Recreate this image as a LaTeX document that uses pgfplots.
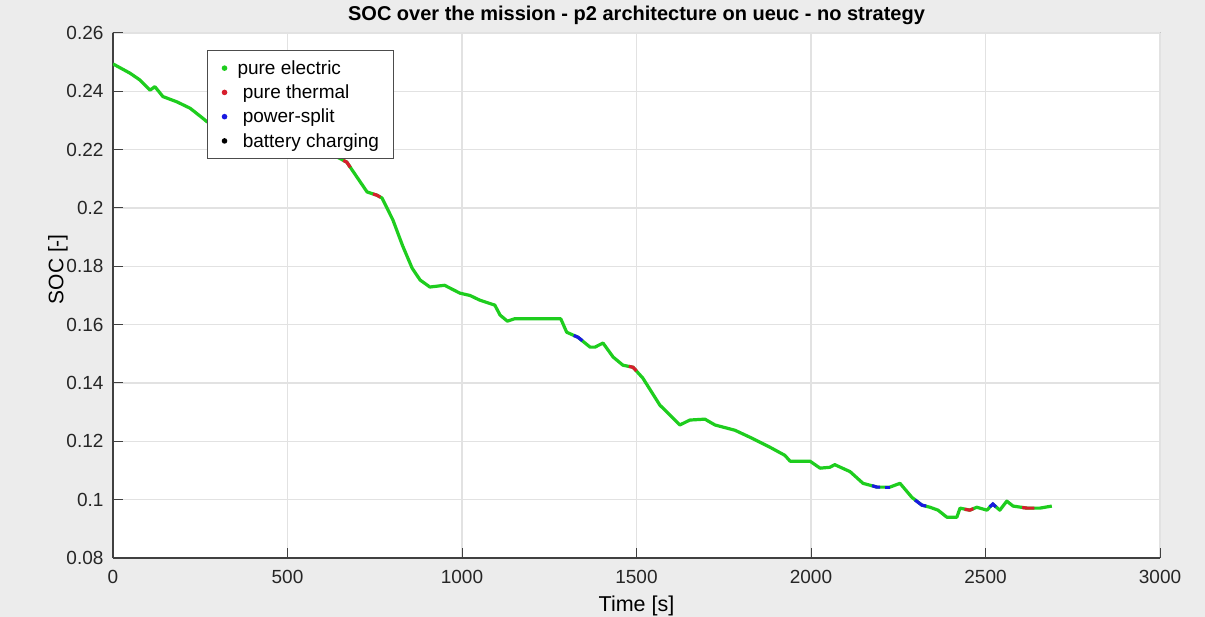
\documentclass[border=0pt]{standalone}
\usepackage{fontspec}
\setmainfont{Liberation Sans}
\usepackage{pgfplots}
\pgfplotsset{compat=1.18}
\definecolor{socgreen}{RGB}{30,205,30}
\definecolor{socred}{RGB}{215,30,45}
\definecolor{socblue}{RGB}{25,25,225}
\definecolor{figbg}{RGB}{236,236,236}
\definecolor{gridgray}{RGB}{226,226,226}

\begin{document}
\begin{tikzpicture}[x=1pt,y=1pt]
\useasboundingbox (0,0) rectangle (1205,617);
\fill[figbg] (0,0) rectangle (1205,617);
\begin{axis}[
  at={(113pt,59pt)}, anchor=south west,
  scale only axis, width=1047pt, height=525pt,
  xmin=0, xmax=3000, ymin=0.08, ymax=0.26,
  xtick={0,500,1000,1500,2000,2500,3000},
  ytick={0.08,0.1,0.12,0.14,0.16,0.18,0.2,0.22,0.24,0.26},
  scaled y ticks=false, scaled x ticks=false,
  xticklabel style={/pgf/number format/set thousands separator={}, yshift=-9pt},
  yticklabel style={/pgf/number format/fixed, /pgf/number format/precision=2, xshift=-6pt},
  /pgf/number format/assume math mode=true,
  tick label style={font=\fontsize{19}{22}\selectfont, text=black!85},
  axis lines=left, axis line style={-, black!75, line width=1.2pt},
  axis background/.style={fill=white, draw=gray!45, line width=1pt},
  tick align=inside, major tick length=10pt,
  tick style={black!75, line width=1pt},
  grid=major, major grid style={gridgray, line width=1.5pt},
  title={SOC over the mission - p2 architecture on ueuc - no strategy},
  title style={font=\bfseries\fontsize{20}{23}\selectfont, at={(axis description cs:0.5,1)}, anchor=base, yshift=6pt, inner sep=0pt},
  xlabel={Time [s]},
  xlabel style={font=\fontsize{21.5}{24}\selectfont, at={(axis description cs:0.5,0)}, anchor=base, yshift=-54pt, inner sep=0pt},
  ylabel={SOC [-]},
  ylabel style={font=\fontsize{21}{24}\selectfont, at={(axis description cs:0,0.55)}, anchor=center, yshift=55pt, inner sep=0pt},
  legend style={at={(0.0898,0.9676)}, anchor=north west, font=\fontsize{19}{22}\selectfont,
    draw=black!70, line width=1pt, fill=white, row sep=5pt, inner ysep=8pt, inner xsep=12pt,
    legend cell align=left},
]
\addlegendimage{legend image code/.code={\path[draw=none,fill=none] (0pt,0pt) -- (16pt,0pt); \fill[socgreen,draw=none] (5pt,0pt) circle (2.8pt);}}
\addlegendentry{pure electric}
\addlegendimage{legend image code/.code={\path[draw=none,fill=none] (0pt,0pt) -- (16pt,0pt); \fill[socred,draw=none] (5pt,0pt) circle (2.8pt);}}
\addlegendentry{\ pure thermal}
\addlegendimage{legend image code/.code={\path[draw=none,fill=none] (0pt,0pt) -- (16pt,0pt); \fill[socblue,draw=none] (5pt,0pt) circle (2.8pt);}}
\addlegendentry{\ power-split}
\addlegendimage{legend image code/.code={\path[draw=none,fill=none] (0pt,0pt) -- (16pt,0pt); \fill[black,draw=none] (5pt,0pt) circle (2.8pt);}}
\addlegendentry{\ battery charging}

% pure electric (main trace)
\addplot[forget plot, socgreen, line width=3.2pt, line join=round] coordinates {
(0,0.2494) (49,0.2462) (77,0.2439) (106,0.2404) (120,0.2416) (143,0.2382)
(183,0.2364) (221,0.2342) (258,0.2307) (269,0.2296) (330,0.2275) (400,0.2250)
(470,0.2235) (540,0.2215) (600,0.2195) (642,0.2175) (670,0.2157) (699,0.2106)
(728,0.2055) (756,0.2044) (771,0.2034) (802,0.1959) (830,0.1870) (857,0.1794)
(880,0.1753) (908,0.1729) (950,0.1735) (994,0.1708) (1023,0.1700) (1051,0.1684)
(1094,0.1667) (1109,0.1633) (1130,0.1612) (1150,0.1620) (1283,0.1620) (1300,0.1574)
(1332,0.1557) (1367,0.1523) (1381,0.1523) (1404,0.1537) (1433,0.1489) (1461,0.1461)
(1490,0.1454) (1518,0.1417) (1567,0.1324) (1596,0.1290) (1624,0.1256) (1653,0.1273)
(1696,0.1276) (1725,0.1256) (1782,0.1238) (1825,0.1214) (1882,0.1180) (1925,0.1152)
(1940,0.1132) (1997,0.1132) (2026,0.1108) (2054,0.1111) (2068,0.1120) (2112,0.1096)
(2149,0.1056) (2189,0.1043) (2226,0.1043) (2255,0.1056) (2289,0.1008) (2318,0.0981)
(2341,0.0974) (2364,0.0964) (2389,0.0940) (2418,0.0940) (2427,0.0971) (2455,0.0964)
(2475,0.0974) (2504,0.0964) (2521,0.0985) (2541,0.0964) (2561,0.0995) (2579,0.0978)
(2619,0.0971) (2656,0.0971) (2690,0.0978)
};
% pure thermal
\addplot[forget plot, socred, line width=3.2pt] coordinates {(660,0.2163) (670,0.2157) (680,0.2139)};
\addplot[forget plot, socred, line width=3.2pt] coordinates {(745,0.2048) (756,0.2044) (766,0.2037)};
\addplot[forget plot, socred, line width=3.2pt] coordinates {(1478,0.1457) (1490,0.1454) (1500,0.1441)};
\addplot[forget plot, socred, line width=3.2pt] coordinates {(2440,0.0967) (2455,0.0964) (2465,0.0969)};
\addplot[forget plot, socred, line width=3.2pt] coordinates {(2605,0.0973) (2619,0.0971) (2640,0.0971)};
% power-split
\addplot[forget plot, socblue, line width=3.2pt] coordinates {(1320,0.1563) (1332,0.1557) (1345,0.1545)};
\addplot[forget plot, socblue, line width=3.2pt] coordinates {(2175,0.1048) (2189,0.1043) (2198,0.1043)};
\addplot[forget plot, socblue, line width=3.2pt] coordinates {(2212,0.1043) (2226,0.1043)};
\addplot[forget plot, socblue, line width=3.2pt] coordinates {(2298,0.0999) (2318,0.0981) (2330,0.0978)};
\addplot[forget plot, socblue, line width=3.2pt] coordinates {(2512,0.0975) (2521,0.0985) (2530,0.0975)};
\end{axis}
\end{tikzpicture}
\end{document}
